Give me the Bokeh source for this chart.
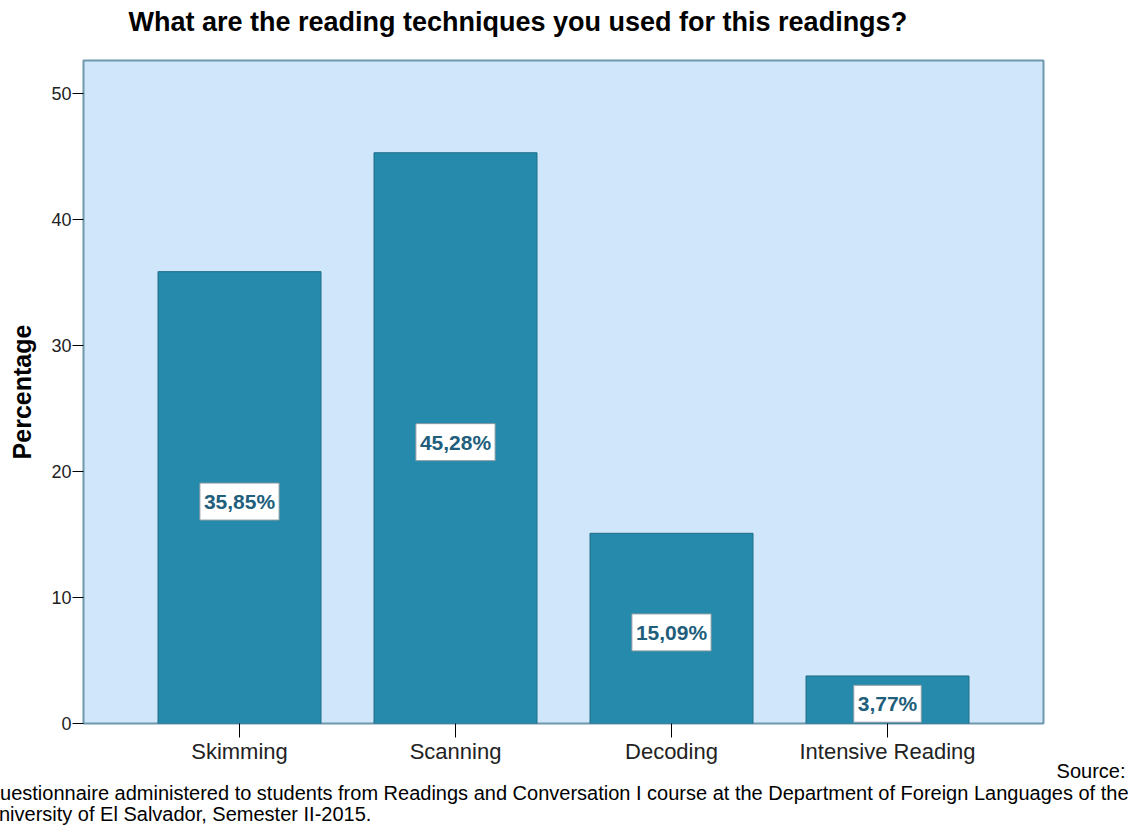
from bokeh.plotting import figure
from bokeh.models import Range1d, FixedTicker, Title, ColumnDataSource
from bokeh.core.properties import value
from bokeh.embed import file_html
from bokeh.resources import INLINE

categories = ["Skimming", "Scanning", "Decoding", "Intensive Reading"]
percentages = [35.85, 45.28, 15.09, 3.77]
value_labels = ["35,85%", "45,28%", "15,09%", "3,77%"]
y_ticks = [0, 10, 20, 30, 40, 50]
title_text = "What are the reading techniques you used for this readings?"
y_label = "Percentage"
source_line1 = "Source:"
source_line2 = ("Questionnaire administered to students from Readings and Conversation I course "
                "at the Department of Foreign Languages of the")
source_line3 = "University of El Salvador, Semester II-2015."

FONT = "Liberation Sans"

xs = list(range(1, len(categories) + 1))
src = ColumnDataSource(dict(x=xs, top=percentages,
                            mid=[v / 2 for v in percentages], lab=value_labels))

pad = 48 / 216
p = figure(width=1128, height=827, output_backend="svg", toolbar_location=None,
           title=None,
           x_range=Range1d(0.5 - pad, len(categories) + 0.5 + pad),
           y_range=Range1d(0, 52.6),
           min_border_left=83, min_border_right=85, min_border_top=60,
           min_border_bottom=104)
p.background_fill_color = "#D0E6FA"
p.border_fill_color = "white"
p.outline_line_color = "#6F98AC"
p.outline_line_width = 2
p.xgrid.visible = False
p.ygrid.visible = False

p.vbar(x="x", top="top", width=163 / 216, bottom=0, source=src,
       fill_color="#258AAB", line_color="#1E6E88", line_width=1)

p.text(x="x", y="mid", text="lab", source=src, text_align="center",
       text_baseline="middle", y_offset=4,
       text_font=value(FONT), text_font_style="bold",
       text_font_size="21px", text_color="#215E7B",
       background_fill_color="white", border_line_color="#8A9AA2",
       border_line_width=1, padding=(4, 7))

ya = p.yaxis[0]
ya.ticker = FixedTicker(ticks=y_ticks)
ya.axis_line_color = None
ya.major_tick_line_color = "black"
ya.major_tick_line_width = 1
ya.major_tick_out = 11
ya.major_tick_in = 0
ya.minor_tick_line_color = None
ya.major_label_text_font = FONT
ya.major_label_text_font_size = "18px"
ya.major_label_text_color = "#222222"
ya.major_label_standoff = 1
ya.axis_label = y_label
ya.axis_label_text_font = FONT
ya.axis_label_text_font_style = "bold"
ya.axis_label_text_font_size = "25px"
ya.axis_label_text_color = "black"
ya.axis_label_standoff = 12

xa = p.xaxis[0]
xa.ticker = FixedTicker(ticks=xs)
xa.major_label_overrides = {x: c for x, c in zip(xs, categories)}
xa.axis_line_color = None
xa.major_tick_line_color = "black"
xa.major_tick_line_width = 1
xa.major_tick_out = 14
xa.major_tick_in = 0
xa.minor_tick_line_color = None
xa.major_label_text_font = FONT
xa.major_label_text_font_size = "22px"
xa.major_label_text_color = "#222222"
xa.major_label_standoff = 1

# title strip: a blank spacer next to the frame, then the title
p.add_layout(Title(text=" ", standoff=11, text_font=FONT, text_font_size="10px"), "above")
p.add_layout(Title(text=title_text, align="left", offset=45, standoff=0,
                   text_font=FONT, text_font_style="bold", text_font_size="27px",
                   text_color="black"), "above")


def foot(text, align, offset, standoff):
    p.add_layout(Title(text=text, align=align, offset=offset, standoff=standoff,
                       text_font=FONT, text_font_style="normal", text_font_size="20px",
                       text_color="black"), "below")


foot(source_line1, "right", -82, -17)
foot(source_line2, "left", -99, 13)
foot(source_line3, "left", -99, -19)

open("out.html", "w").write(file_html(p, INLINE))
